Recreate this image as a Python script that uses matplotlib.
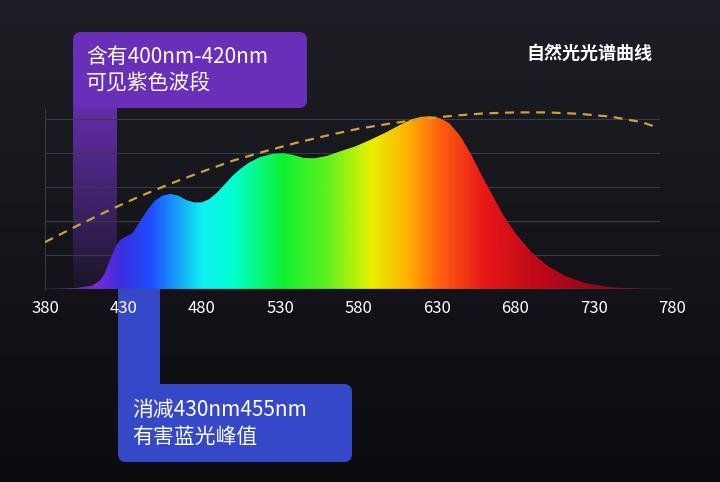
import numpy as np
import matplotlib.pyplot as plt
from matplotlib.colors import LinearSegmentedColormap
from matplotlib.patches import FancyBboxPatch, Rectangle

plt.rcParams['font.family'] = ['Noto Sans CJK SC', 'DejaVu Sans']

# spectrum curve (wavelength nm, relative intensity)
wl = [380, 400, 410, 415, 418, 421, 425, 428, 432, 436, 440, 445, 450, 455, 460, 465,
      470, 475, 480, 485, 490, 495, 500, 505, 510, 517, 525, 532, 538, 545, 552, 560,
      568, 578, 587, 597, 606, 614, 620, 626, 632, 638, 645, 652, 658, 665, 672, 680,
      690, 700, 712, 725, 740, 760, 775]
inten = [0.0, 0.03, 0.1, 0.25, 0.45, 0.8, 1.25, 1.45, 1.55, 1.65, 1.95, 2.3, 2.6, 2.75,
         2.8, 2.75, 2.62, 2.55, 2.55, 2.65, 2.85, 3.1, 3.35, 3.55, 3.72, 3.88, 3.98, 4.0,
         3.95, 3.86, 3.85, 3.92, 4.05, 4.2, 4.38, 4.6, 4.82, 5.0, 5.07, 5.09, 5.03, 4.88,
         4.5, 3.95, 3.4, 2.8, 2.2, 1.65, 1.1, 0.7, 0.38, 0.17, 0.06, 0.01, 0.0]
# natural light reference (dashed)
wl_nat = [380, 400, 420, 440, 460, 480, 500, 520, 540, 560, 580, 600, 620, 640, 660,
          680, 700, 720, 740, 760, 768]
nat = [1.38, 1.85, 2.3, 2.72, 3.1, 3.45, 3.78, 4.05, 4.3, 4.52, 4.72, 4.87, 5.0, 5.1,
       5.17, 5.2, 5.2, 5.16, 5.08, 4.92, 4.8]
ticks = [380, 430, 480, 530, 580, 630, 680, 730, 780]

W, H = 720, 482
fig = plt.figure(figsize=(7.2, 4.82), dpi=100)

# background + annotation layer in pixel coordinates
bg = fig.add_axes([0, 0, 1, 1], zorder=0)
bg.set_xlim(0, W)
bg.set_ylim(H, 0)
bg.axis('off')
grad = np.linspace(0, 1, 256)[:, None]
bg_cmap = LinearSegmentedColormap.from_list('bg', ['#1e1e26', '#0b0b10'])
bg.imshow(grad, cmap=bg_cmap, extent=[0, W, H, 0], aspect='auto')

# purple stripe fading downwards
purple = np.zeros((100, 1, 4))
purple[..., 0] = 0x6a / 255
purple[..., 1] = 0x2f / 255
purple[..., 2] = 0xb8 / 255
purple[:, 0, 3] = np.linspace(0.95, 0.1, 100)
bg.imshow(purple, extent=[73, 117, 289, 100], aspect='auto')
# blue stripe under axis
bg.add_patch(Rectangle((118, 289), 42, 100, color='#3548c8', lw=0))

bg.add_patch(FancyBboxPatch((73, 32), 234, 76, boxstyle='round,pad=0,rounding_size=8',
                            fc='#6a2fb8', ec='none'))
bg.add_patch(FancyBboxPatch((118, 384), 234, 78, boxstyle='round,pad=0,rounding_size=8',
                            fc='#3548c8', ec='none'))
bg.text(86, 57, '含有400nm-420nm', color='white', fontsize=15, va='center', weight='medium')
bg.text(86, 84, '可见紫色波段', color='white', fontsize=15, va='center', weight='medium')
bg.text(132, 410, '消减430nm455nm', color='white', fontsize=15, va='center', weight='medium')
bg.text(132, 437, '有害蓝光峰值', color='white', fontsize=15, va='center', weight='medium')
bg.text(589, 53, '自然光光谱曲线', color='white', fontsize=13, ha='center', va='center',
        weight='bold')

# main chart
ax = fig.add_axes([45 / W, 1 - 289 / H, 627 / W, 180 / H], zorder=1)
ax.patch.set_alpha(0)
ax.set_xlim(380, 780)
ax.set_ylim(0, 5.3)

spec_cmap = LinearSegmentedColormap.from_list('spec', [
    (0.00, '#4a1a80'), (0.08, '#7a2ad0'), (0.12, '#3a2ee0'), (0.17, '#1e50ff'),
    (0.25, '#10f0f0'), (0.30, '#00ffd0'), (0.38, '#10f030'), (0.45, '#60f020'),
    (0.52, '#e8f000'), (0.58, '#ffb000'), (0.63, '#ff6010'), (0.70, '#e81818'),
    (0.80, '#b80818'), (1.00, '#5a0818')])
xs = np.linspace(380, 780, 512)[None, :]
img = ax.imshow(xs, cmap=spec_cmap, extent=[380, 780, 0, 5.3], aspect='auto', zorder=2)
poly = ax.fill_between(wl, inten, 0, color='none', lw=0)
img.set_clip_path(poly.get_paths()[0], transform=ax.transData)

for g in [1, 2, 3, 4, 5]:
    ax.axhline(g, xmax=0.98, color='#3a3a44', lw=0.8, zorder=1)
ax.axhline(0, color='#555560', lw=1, zorder=3)
ax.plot(wl_nat, nat, ls=(0, (4, 3)), color='#d0a040', lw=1.6, zorder=4)

for s in ax.spines.values():
    s.set_visible(False)
ax.spines['left'].set_visible(True)
ax.spines['left'].set_color('#3a3a44')
ax.set_yticks([])
ax.set_xticks(ticks)
ax.tick_params(axis='x', length=0, colors='white', labelsize=12, pad=8)

fig.savefig('out.png', dpi=100)
